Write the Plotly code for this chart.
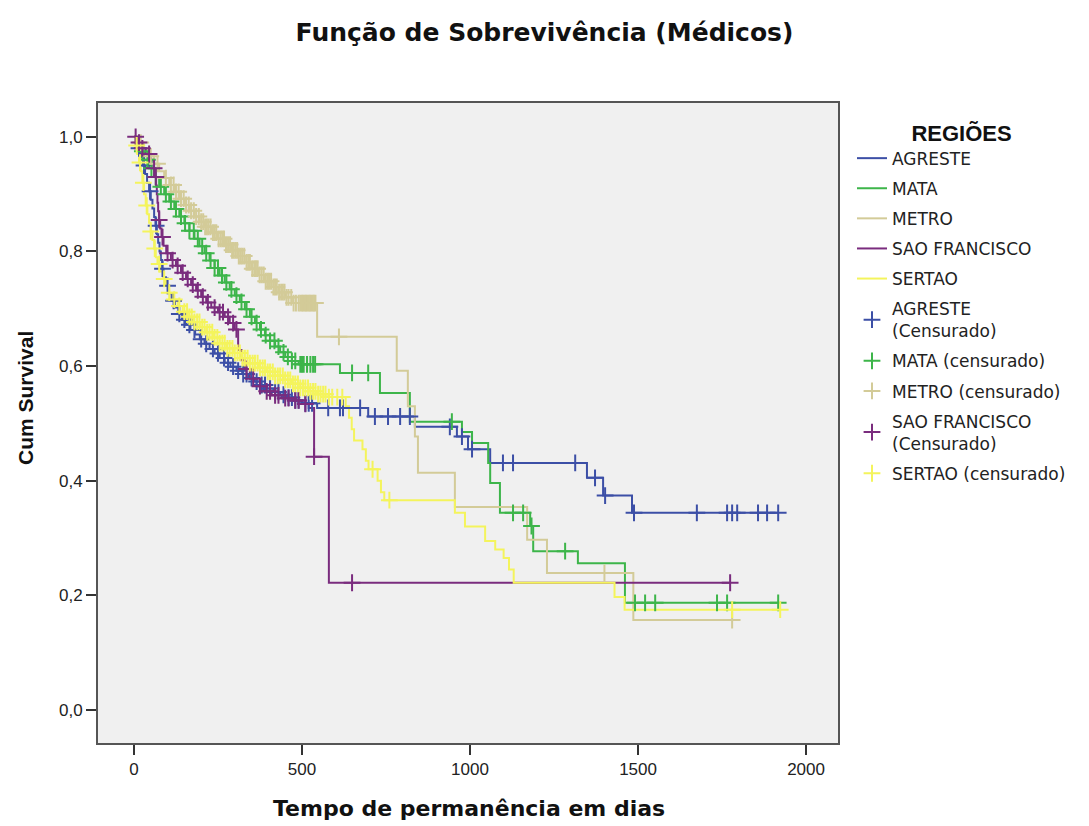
import numpy as np
import plotly.graph_objects as go

# ---------------- data ----------------
groups = ["AGRESTE", "MATA", "METRO", "SAO FRANCISCO", "SERTAO"]
censor_names = ["AGRESTE<br>(Censurado)", "MATA (censurado)", "METRO (censurado)",
                "SAO FRANCISCO<br>(Censurado)", "SERTAO (censurado)"]

# event times (days) and survival after each event
agreste_t = [5, 12, 20, 27, 33, 39, 45, 50, 55, 60, 64, 68, 72, 76, 80, 84, 88, 95, 103, 112,
             122, 132, 143, 155, 168, 182, 196, 210, 225, 240, 255, 270, 287, 305, 322, 340,
             358, 376, 395, 415, 435, 455, 478, 500, 545, 697, 836, 961, 994, 1060, 1348,
             1396, 1482]
agreste_s = [0.99, 0.98, 0.965, 0.95, 0.935, 0.92, 0.905, 0.89, 0.875, 0.86, 0.845, 0.83, 0.815,
             0.80, 0.785, 0.77, 0.755, 0.74, 0.727, 0.714, 0.702, 0.691, 0.681, 0.672, 0.663,
             0.655, 0.647, 0.639, 0.63, 0.622, 0.614, 0.606, 0.599, 0.592, 0.586, 0.579, 0.573,
             0.567, 0.561, 0.555, 0.55, 0.545, 0.54, 0.535, 0.527, 0.512, 0.494, 0.477, 0.455,
             0.431, 0.405, 0.374, 0.344]
agreste_c = [15, 30, 48, 66, 85, 100, 118, 135, 150, 165, 180, 200, 215, 235, 250, 268, 280,
             295, 310, 325, 335, 350, 365, 380, 390, 405, 420, 430, 445, 460, 470, 480, 490,
             510, 520, 530, 578, 613, 622, 673, 717, 756, 792, 821, 940, 976, 1006, 1098, 1128,
             1313, 1372, 1402, 1488, 1675, 1765, 1780, 1795, 1857, 1884, 1917]

mata_t = [8, 18, 30, 45, 60, 75, 90, 105, 120, 135, 150, 165, 180, 195, 210, 225, 240, 255,
          270, 285, 300, 315, 330, 345, 360, 375, 390, 405, 420, 435, 450, 470, 490, 613, 732,
          821, 976, 1006, 1054, 1060, 1089, 1179, 1188, 1321, 1461]
mata_s = [0.99, 0.975, 0.96, 0.945, 0.93, 0.913, 0.90, 0.887, 0.874, 0.861, 0.849, 0.836,
          0.822, 0.809, 0.797, 0.784, 0.771, 0.758, 0.746, 0.734, 0.723, 0.712, 0.699, 0.686,
          0.675, 0.664, 0.654, 0.644, 0.634, 0.624, 0.616, 0.609, 0.603, 0.588, 0.553, 0.503,
          0.485, 0.466, 0.431, 0.396, 0.344, 0.321, 0.277, 0.256, 0.187]
mata_c = [25, 40, 52, 65, 80, 95, 110, 125, 140, 152, 165, 178, 190, 203, 215, 228, 240, 250,
          262, 275, 290, 305, 320, 335, 350, 365, 378, 392, 405, 418, 430, 445, 458, 470, 480,
          495, 500, 505, 515, 525, 533, 539, 649, 697, 946, 1128, 1158, 1183, 1283, 1491, 1521,
          1551, 1735, 1765, 1917]

metro_t = [15, 30, 45, 60, 75, 90, 105, 120, 135, 150, 165, 180, 195, 210, 230, 250, 270, 290,
           310, 330, 350, 370, 390, 410, 430, 450, 470, 545, 782, 815, 836, 845, 955, 1170,
           1229, 1486]
metro_s = [0.99, 0.978, 0.966, 0.953, 0.94, 0.928, 0.916, 0.904, 0.892, 0.881, 0.871, 0.861,
           0.852, 0.843, 0.833, 0.822, 0.812, 0.802, 0.792, 0.781, 0.77, 0.759, 0.748, 0.738,
           0.729, 0.72, 0.71, 0.651, 0.592, 0.53, 0.477, 0.414, 0.354, 0.297, 0.239, 0.157]
metro_c = [20, 50, 70, 95, 110, 118, 125, 133, 140, 148, 155, 163, 170, 178, 185, 193, 200,
           206, 212, 217, 222, 228, 235, 240, 245, 252, 258, 263, 268, 274, 280, 286, 292,
           297, 302, 307, 312, 317, 322, 328, 335, 340, 345, 352, 358, 363, 368, 374, 380,
           386, 392, 397, 402, 408, 415, 420, 425, 432, 438, 443, 448, 454, 460, 468, 475,
           482, 490, 495, 500, 504, 508, 512, 516, 520, 524, 528, 532, 536, 540, 610, 1400, 1780]

sf_t = [8, 20, 35, 50, 58, 63, 66, 68, 70, 72, 75, 78, 82, 88, 96, 110, 125, 140, 155, 170,
        185, 200, 215, 230, 250, 270, 285, 300, 310, 320, 330, 345, 365, 385, 410, 440, 470,
        500, 520, 536, 580]
sf_s = [0.99, 0.98, 0.97, 0.96, 0.945, 0.93, 0.915, 0.90, 0.885, 0.87, 0.855, 0.84, 0.825,
        0.81, 0.797, 0.785, 0.775, 0.763, 0.752, 0.742, 0.732, 0.721, 0.711, 0.702, 0.694,
        0.686, 0.675, 0.664, 0.628, 0.61, 0.595, 0.578, 0.565, 0.556, 0.549, 0.544, 0.54,
        0.534, 0.527, 0.442, 0.222]
sf_c = [5, 15, 25, 45, 60, 65, 75, 85, 100, 115, 130, 145, 160, 175, 190, 205, 220, 240, 255,
        265, 280, 295, 305, 335, 355, 375, 395, 405, 420, 430, 450, 460, 480, 490, 510, 536,
        649, 1774]

sertao_t = [5, 10, 15, 20, 25, 30, 35, 40, 45, 50, 55, 60, 65, 70, 78, 86, 95, 105, 116, 130,
            145, 160, 178, 196, 215, 235, 255, 275, 295, 320, 345, 370, 395, 420, 445, 470,
            495, 520, 545, 580, 630, 640, 648, 655, 680, 690, 698, 725, 735, 745, 955, 985,
            1045, 1075, 1100, 1116, 1130, 1430, 1460]
sertao_s = [0.985, 0.97, 0.955, 0.94, 0.92, 0.90, 0.88, 0.865, 0.85, 0.835, 0.82, 0.805, 0.79,
            0.778, 0.765, 0.752, 0.74, 0.728, 0.716, 0.705, 0.695, 0.686, 0.677, 0.668, 0.659,
            0.65, 0.64, 0.631, 0.623, 0.614, 0.605, 0.597, 0.59, 0.583, 0.576, 0.569, 0.562,
            0.556, 0.551, 0.546, 0.53, 0.51, 0.49, 0.47, 0.455, 0.435, 0.42, 0.40, 0.38, 0.366,
            0.344, 0.32, 0.295, 0.28, 0.265, 0.245, 0.222, 0.197, 0.175]
sertao_c = [8, 18, 28, 38, 50, 62, 75, 90, 105, 120, 135, 150, 158, 165, 172, 180, 188, 195,
            203, 210, 218, 225, 233, 240, 248, 255, 263, 270, 278, 285, 293, 300, 308, 315,
            323, 330, 338, 345, 353, 360, 368, 375, 383, 390, 398, 405, 413, 420, 428, 435,
            443, 450, 458, 465, 473, 480, 488, 495, 503, 510, 518, 525, 533, 540, 548, 555,
            563, 570, 580, 590, 605, 620, 710, 760, 1780, 1923]

x_tickvals = [0, 500, 1000, 1500, 2000]
x_ticktext = ["0", "500", "1000", "1500", "2000"]
y_tickvals = [0.0, 0.2, 0.4, 0.6, 0.8, 1.0]
y_ticktext = ["0,0", "0,2", "0,4", "0,6", "0,8", "1,0"]

colors = ["#3C4FA6", "#3DB54A", "#D3CB98", "#7A2C7E", "#F4F45C"]

# ---------------- figure ----------------
series = [(agreste_t, agreste_s, agreste_c), (mata_t, mata_s, mata_c),
          (metro_t, metro_s, metro_c), (sf_t, sf_s, sf_c), (sertao_t, sertao_s, sertao_c)]

fig = go.Figure()
line_traces = []
cens_traces = []
for i, ((t, s, c), name, col) in enumerate(zip(series, groups, colors)):
    t = np.array(t, float)
    s = np.array(s, float)
    c = np.array(c, float)
    end = max(t.max(), c.max())
    xs = np.concatenate([[0.0], t, [end]])
    ys = np.concatenate([[1.0], s, [s[-1]]])
    line_traces.append(go.Scatter(x=xs, y=ys, mode="lines",
                                  line=dict(shape="hv", color=col, width=2),
                                  name=name, legendgroup="l%d" % i))
    idx = np.searchsorted(t, c, side="right") - 1
    cy = np.where(idx >= 0, s[np.clip(idx, 0, None)], 1.0)
    cens_traces.append((c, cy, col))

for tr in line_traces:
    fig.add_trace(tr)
for i, ((c, cy, col), nm) in enumerate(zip(cens_traces, censor_names)):
    fig.add_trace(go.Scatter(x=c, y=cy, mode="markers", name=nm, legendgroup="c%d" % i,
                             marker=dict(symbol="cross-thin", size=12, color=col,
                                         line=dict(color=col, width=2))))

W, H = 1089, 826
L, R, T, B = 98, 251, 103, 83
pw, ph = W - L - R, H - T - B

fig.update_layout(
    width=W, height=H,
    margin=dict(l=L, r=R, t=T, b=B),
    paper_bgcolor="white",
    plot_bgcolor="#F0F0F0",
    font=dict(family="Liberation Sans, Arial, sans-serif", size=16, color="#222"),
    title=dict(text="<b>Função de Sobrevivência (Médicos)</b>", x=0.5, xref="container",
               y=1 - 32 / H, yref="container", xanchor="center", yanchor="middle",
               font=dict(family="DejaVu Sans, sans-serif", size=25, color="#111")),
    showlegend=True,
    legend=dict(x=(852 - L) / pw, y=(H - B - 112) / ph, xanchor="left",
                yanchor="top", bgcolor="white", traceorder="grouped", tracegroupgap=5,
                title=dict(text="<b>REGIÕES</b>", side="top center",
                           font=dict(family="Liberation Sans, Arial, sans-serif", size=22,
                                     color="#111")),
                font=dict(family="DejaVu Sans, sans-serif", size=17, color="#222")),
)
fig.update_xaxes(range=[-107, 2095], tickvals=x_tickvals, ticktext=x_ticktext,
                 showgrid=False, zeroline=False, ticks="outside", ticklen=10, tickwidth=1.5,
                 tickcolor="#333", showline=True, linecolor="#555", linewidth=2, mirror=True,
                 tickfont=dict(size=17, color="#222"))
fig.update_yaxes(range=[-0.0576, 1.059], tickvals=y_tickvals, ticktext=y_ticktext,
                 showgrid=False, zeroline=False, ticks="outside", ticklen=10, tickwidth=1.5,
                 tickcolor="#333", showline=True, linecolor="#555", linewidth=2, mirror=True,
                 tickfont=dict(size=17, color="#222"))

fig.add_annotation(text="<b>Cum Survival</b>", xref="paper", yref="paper",
                   x=(25 - L) / pw, y=(H - B - 398) / ph, textangle=-90, showarrow=False,
                   xanchor="center", yanchor="middle",
                   font=dict(family="Liberation Sans, Arial, sans-serif", size=21, color="#111"))
fig.add_annotation(text="<b>Tempo de permanência em dias</b>", xref="paper", yref="paper",
                   x=(469 - L) / pw, y=(H - B - 808) / ph, showarrow=False,
                   xanchor="center", yanchor="middle",
                   font=dict(family="DejaVu Sans, sans-serif", size=22, color="#111"))

fig.write_html("out.html", config={"displayModeBar": False},
               post_script="document.body.style.margin='0';document.body.style.overflow='hidden';")
